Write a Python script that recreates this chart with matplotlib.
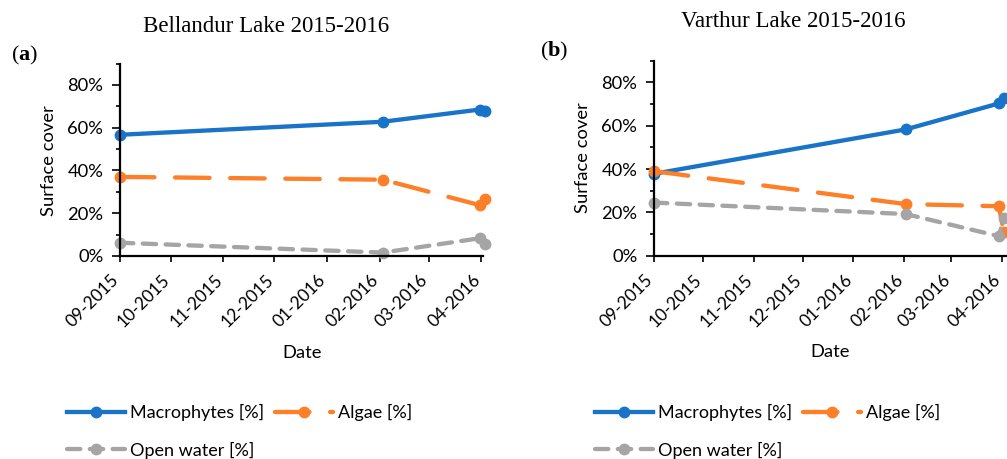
"""Surface cover of Bellandur and Varthur lakes, 2015-2016."""

import matplotlib

matplotlib.use("Agg")
import matplotlib.dates as mdates
import matplotlib.pyplot as plt
import numpy as np
from matplotlib.ticker import FuncFormatter, MultipleLocator

# Bellandur Lake
BELL_DATES = ["2015-09-01", "2016-02-03", "2016-03-31", "2016-04-03"]
BELL_MACRO = [56.7, 62.8, 68.5, 67.7]
BELL_ALGAE = [37.0, 35.7, 23.8, 26.6]
BELL_OPEN = [6.2, 1.6, 8.3, 5.8]

# Varthur Lake
VART_DATES = ["2015-09-01", "2016-02-02", "2016-03-30", "2016-04-02"]
VART_MACRO = [37.8, 58.3, 70.3, 73.0]
VART_ALGAE = [39.0, 23.8, 22.8, 11.0]
VART_OPEN = [24.5, 19.2, 9.0, 17.3]

SERIES_LABELS = ["Macrophytes [%]", "Algae [%]", "Open water [%]"]
COLORS = ["#1873c9", "#fd7f28", "#a5a5a5"]

W, H = 1007, 459
SANS = "Lato"
SERIF = "Liberation Serif"
FS = 13.25


def fx(px):
    return px / W


def fy(py):
    return 1 - py / H


def draw_panel(ax, dates, series, xmax):
    d = np.array(dates, dtype="datetime64[D]")
    styles = [
        dict(linestyle="-"),
        dict(linestyle=(0, (8, 4.8)), dash_capstyle="round"),
        dict(linestyle=(0, (3.1, 2.2)), dash_capstyle="round"),
    ]
    handles = []
    for vals, color, label, st in zip(series, COLORS, SERIES_LABELS, styles):
        (h,) = ax.plot(d, vals, color=color, lw=3.1, marker="o", markersize=7.5,
                       label=label, clip_on=False, **st)
        handles.append(h)
    ax.set_xlim(np.datetime64("2015-09-01"), np.datetime64(xmax))
    ax.set_ylim(0, 90)
    ax.yaxis.set_major_locator(MultipleLocator(20))
    ax.yaxis.set_minor_locator(MultipleLocator(10))
    ax.yaxis.set_major_formatter(FuncFormatter(lambda v, _: f"{v:.0f}%"))
    ax.xaxis.set_major_locator(mdates.MonthLocator())
    ax.xaxis.set_major_formatter(mdates.DateFormatter("%m-%Y"))
    for s in ["top", "right"]:
        ax.spines[s].set_visible(False)
    for s in ["left", "bottom"]:
        ax.spines[s].set_linewidth(1.6)
    ax.tick_params(axis="y", which="major", length=6, width=1.2, pad=6,
                   labelsize=FS)
    ax.tick_params(axis="y", which="minor", length=3, width=1.2)
    ax.tick_params(axis="x", length=4, width=1.2, pad=14, labelsize=12.5)
    for lab in ax.get_xticklabels():
        lab.set_rotation(45)
        lab.set_ha("right")
        lab.set_va("baseline")
        lab.set_rotation_mode("anchor")
    return handles


plt.rcParams["font.family"] = SANS
plt.rcParams["mathtext.fontset"] = "custom"
plt.rcParams["mathtext.rm"] = SERIF
plt.rcParams["mathtext.bf"] = SERIF + ":bold"

fig = plt.figure(figsize=(W / 100, H / 100), dpi=100)

ax1 = fig.add_axes([fx(120), fy(256), fx(363), (256 - 63.6) / H])
ax2 = fig.add_axes([fx(654), fy(255.6), fx(353), (255.6 - 60.8) / H])

h1 = draw_panel(ax1, BELL_DATES, [BELL_MACRO, BELL_ALGAE, BELL_OPEN], "2016-04-02")
h2 = draw_panel(ax2, VART_DATES, [VART_MACRO, VART_ALGAE, VART_OPEN], "2016-04-04")

for handles, x0 in [(h1, 67), (h2, 595)]:
    order = [handles[0], handles[2], handles[1]]
    fig.legend(order, [h.get_label() for h in order], ncol=2, frameon=False,
               fontsize=13, handlelength=3.2, handletextpad=0.3,
               columnspacing=0.6, labelspacing=1.15, borderaxespad=0,
               borderpad=0, loc="upper left",
               bbox_to_anchor=(fx(x0), fy(404)))

# titles and panel letters
fig.text(fx(266), fy(31.7), "Bellandur Lake 2015-2016", family=SERIF,
         fontsize=16.5, ha="center", va="baseline")
fig.text(fx(793.5), fy(26.7), "Varthur Lake 2015-2016", family=SERIF,
         fontsize=16.5, ha="center", va="baseline")
fig.text(fx(25), fy(55), r"$\mathrm{(}\mathbf{a}\mathrm{)}$", fontsize=16,
         ha="center", va="center")
fig.text(fx(554), fy(51), r"$\mathrm{(}\mathbf{b}\mathrm{)}$", fontsize=16,
         ha="center", va="center")

# axis labels
fig.text(fx(49), fy(161), "Surface cover", fontsize=FS, rotation=90,
         ha="center", va="center")
fig.text(fx(583), fy(158), "Surface cover", fontsize=FS, rotation=90,
         ha="center", va="center")
fig.text(fx(302), fy(353), "Date", fontsize=FS, ha="center", va="center")
fig.text(fx(830), fy(352), "Date", fontsize=FS, ha="center", va="center")

fig.savefig("out.png", dpi=100)
